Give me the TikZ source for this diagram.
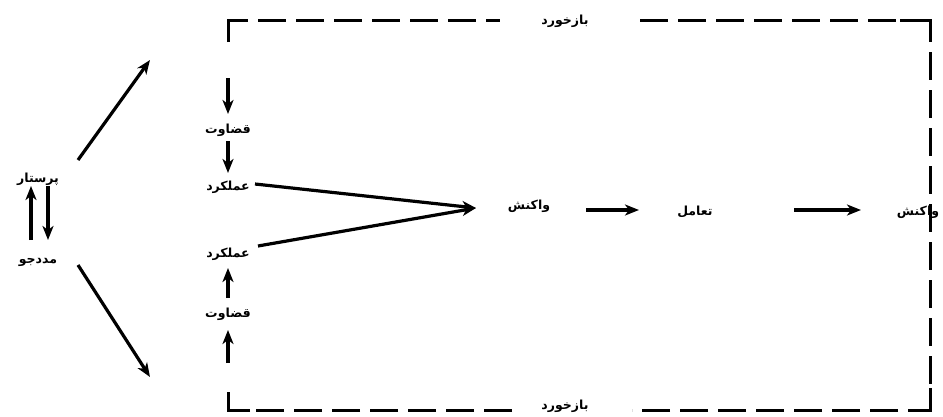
\documentclass[tikz,border=0pt]{standalone}
\usepackage{fontspec}
\newfontfamily\arabicfont[Script=Arabic]{DejaVu Sans}
\TeXXeTstate=1
\usetikzlibrary{arrows.meta}
\begin{document}
\begin{tikzpicture}[x=1pt,y=-1pt,
  lbl/.style={font=\arabicfont\bfseries\fontsize{12.5}{14}\selectfont, inner sep=1pt},
  arr/.style={line width=3.2pt, -{Stealth[length=14pt,width=11pt,inset=4pt]}},
  solidfb/.style={line width=3pt},
  fb/.style={line width=3pt, dash pattern=on 28pt off 10pt}]
\useasboundingbox (0,0) rectangle (943,416);
% labels
\node[lbl] (nurse) at (38,179) {\beginR پرستار\endR};
\node[lbl] (client) at (38,262) {\beginR مددجو\endR};
\node[lbl] (j1) at (228,130) {\beginR قضاوت\endR};
\node[lbl] (p1) at (228,187) {\beginR عملکرد\endR};
\node[lbl] (p2) at (228,254) {\beginR عملکرد\endR};
\node[lbl] (j2) at (228,314) {\beginR قضاوت\endR};
\node[lbl] (r1) at (529,206) {\beginR واکنش\endR};
\node[lbl] (int) at (695,212) {\beginR تعامل\endR};
\node[lbl] (r2) at (918,212) {\beginR واکنش\endR};
\node[lbl] (fbt) at (565,21) {\beginR بازخورد\endR};
\node[lbl] (fbb) at (565,406) {\beginR بازخورد\endR};
% coordinates
\coordinate (a1s) at (78,160); \coordinate (a1e) at (150,60);
\coordinate (a2s) at (78,265); \coordinate (a2e) at (150,377);
\coordinate (u1s) at (31,240); \coordinate (u1e) at (31,186);
\coordinate (d1s) at (48,186); \coordinate (d1e) at (48,240);
\coordinate (v1s) at (228,78); \coordinate (v1e) at (228,114);
\coordinate (v2s) at (228,141); \coordinate (v2e) at (228,173);
\coordinate (w1s) at (228,298); \coordinate (w1e) at (228,268);
\coordinate (w2s) at (228,363); \coordinate (w2e) at (228,330);
\coordinate (c1s) at (255,184); \coordinate (c2s) at (258,246);
\coordinate (cm) at (476,208);
\coordinate (h1s) at (586,210); \coordinate (h1e) at (639,210);
\coordinate (h2s) at (794,210); \coordinate (h2e) at (861,210);
\coordinate (tl) at (228,20); \coordinate (tr) at (930,20);
\coordinate (bl) at (228,410); \coordinate (br) at (930,410);
\coordinate (tgl) at (500,20); \coordinate (tgr) at (640,20);
\coordinate (bgl) at (512,410); \coordinate (bgr) at (632,410);
% arrows
\draw[arr] (a1s) -- (a1e);
\draw[arr] (a2s) -- (a2e);
\draw[arr] (u1s) -- (u1e);
\draw[arr] (d1s) -- (d1e);
\draw[arr] (v1s) -- (v1e);
\draw[arr] (v2s) -- (v2e);
\draw[arr] (w1s) -- (w1e);
\draw[arr] (w2s) -- (w2e);
\draw[arr] (c1s) -- (cm);
\draw[arr] (c2s) -- (cm);
\draw[arr] (h1s) -- (h1e);
\draw[arr] (h2s) -- (h2e);
% feedback loop
\draw[solidfb] ([yshift=-22pt]tl) -- (tl) -- ([xshift=20pt]tl);
\draw[fb, dash phase=-10pt] ([xshift=20pt]tl) -- (tgl);
\draw[fb] (tgr) -- ([xshift=-30pt]tr);
\draw[solidfb] ([xshift=-30pt]tr) -- (tr) -- ([yshift=-22pt]tr);
\draw[fb, dash phase=-10pt] ([yshift=-22pt]tr) -- ([yshift=22pt]br);
\draw[solidfb] ([yshift=22pt]br) -- (br) -- ([xshift=-22pt]br);
\draw[fb, dash phase=-10pt] ([xshift=-22pt]br) -- (bgr);
\draw[fb] (bgl) -- ([xshift=22pt]bl);
\draw[solidfb] ([xshift=22pt]bl) -- (bl) -- ([yshift=18pt]bl);
\end{tikzpicture}
\end{document}
